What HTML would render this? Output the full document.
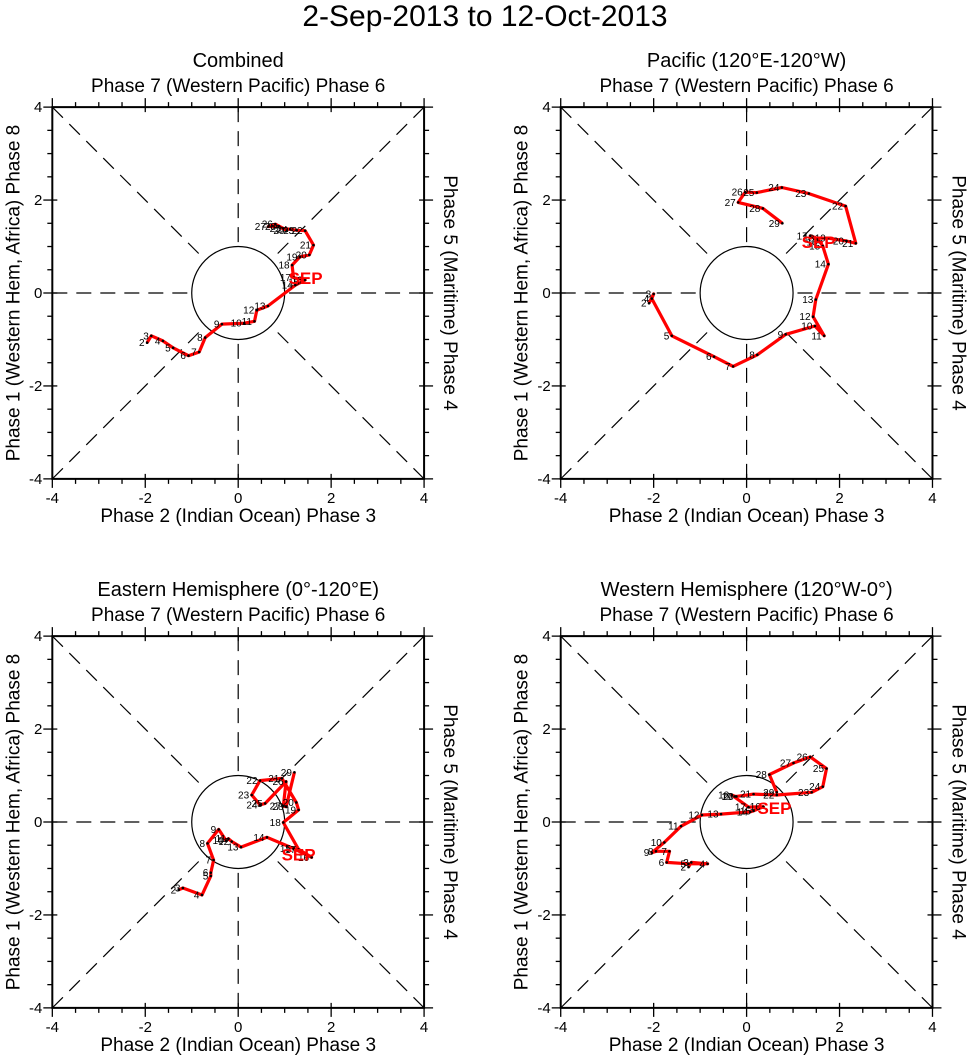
<!DOCTYPE html>
<html><head><meta charset="utf-8"><style>
html,body{margin:0;padding:0;background:#fff;}
svg{display:block;font-family:"Liberation Sans",Arial,sans-serif;}
</style></head><body>
<svg id="chart" width="971" height="1060" viewBox="0 0 971 1060">
<text x="485" y="26" font-size="30" text-anchor="middle">2-Sep-2013 to 12-Oct-2013</text>
</svg>
<script>
const days = [2,3,4,5,6,7,8,9,10,11,12,13,14,15,16,17,18,19,20,21,22,23,24,25,26,27,28,29];
const combinedX = [-1.96,-1.87,-1.62,-1.40,-1.07,-0.84,-0.71,-0.35,0.13,0.35,0.40,0.64,1.23,1.37,1.44,1.19,1.16,1.33,1.53,1.62,1.44,1.26,1.12,0.97,0.80,0.65,0.87,1.05];
const combinedY = [-1.07,-0.92,-1.03,-1.18,-1.35,-1.27,-0.96,-0.67,-0.65,-0.61,-0.37,-0.28,0.17,0.24,0.28,0.33,0.60,0.78,0.82,1.03,1.34,1.35,1.37,1.39,1.48,1.43,1.43,1.34];
const pacificX = [-2.10,-2.00,-2.04,-1.61,-0.70,-0.29,0.23,0.84,1.47,1.67,1.43,1.49,1.76,1.64,1.58,1.37,1.51,1.76,2.15,2.35,2.13,1.34,0.76,0.22,-0.03,-0.18,0.35,0.77];
const pacificY = [-0.22,-0.02,-0.12,-0.92,-1.37,-1.58,-1.33,-0.89,-0.71,-0.92,-0.51,-0.14,0.62,1.01,1.10,1.23,1.18,1.18,1.12,1.07,1.87,2.14,2.27,2.16,2.17,1.95,1.82,1.50];
const easternX = [-1.28,-1.19,-0.78,-0.59,-0.59,-0.53,-0.66,-0.42,-0.26,-0.21,-0.14,0.06,0.62,1.19,1.58,1.30,0.97,1.30,1.25,0.94,0.47,0.29,0.47,0.58,1.03,0.97,1.03,1.21];
const easternY = [-1.46,-1.42,-1.57,-1.16,-1.09,-0.82,-0.46,-0.16,-0.40,-0.36,-0.42,-0.54,-0.33,-0.57,-0.76,-0.59,-0.01,0.26,0.42,0.94,0.89,0.58,0.37,0.40,0.87,0.34,0.33,1.07];
const westernX = [-1.25,-1.19,-0.84,-1.25,-1.72,-1.66,-1.95,-2.04,-1.77,-1.41,-0.96,-0.55,0.08,0.15,0.36,0.04,-0.32,-0.25,-0.22,0.15,0.65,1.40,1.64,1.72,1.37,1.01,0.49,0.65];
const westernY = [-0.97,-0.87,-0.90,-0.90,-0.87,-0.63,-0.63,-0.66,-0.44,-0.09,0.15,0.17,0.22,0.24,0.33,0.32,0.58,0.55,0.55,0.60,0.58,0.64,0.76,1.15,1.40,1.27,1.02,0.64];
const sepLabelX = [1.45, 1.55, 1.30, 0.60];
const sepLabelY = [0.32, 1.10, -0.70, 0.30];
const tickVals = [-4,-2,0,2,4];
const panelTitles = ["Combined","Pacific (120\u00B0E-120\u00B0W)","Eastern Hemisphere (0\u00B0-120\u00B0E)","Western Hemisphere (120\u00B0W-0\u00B0)"];
const panelNames = ["combined","pacific","eastern-hemisphere","western-hemisphere"];
const seriesX = [combinedX, pacificX, easternX, westernX];
const seriesY = [combinedY, pacificY, easternY, westernY];

const NS = "http://www.w3.org/2000/svg";
const svg = document.getElementById('chart');
function mk(tag, attrs, parent, txt){
  const e = document.createElementNS(NS, tag);
  for (const k in attrs) e.setAttribute(k, attrs[k]);
  if (txt !== undefined) e.textContent = txt;
  parent.appendChild(e);
  return e;
}
const origins = [[238.2,293],[746.6,293],[238.2,822],[746.6,822]];
const S = 46.47;
for (let p = 0; p < 4; p++) {
  const ox = origins[p][0], oy = origins[p][1];
  const sx = v => ox + v * S;
  const sy = v => oy - v * S;
  const g = mk('g', {}, svg);
  
  
  const L = sx(-4), R = sx(4), T = sy(4), B = sy(-4);
  const t1 = mk('text', {x: ox, y: T - 40, 'font-size': 20, 'text-anchor': 'middle'}, g, panelTitles[p]);
  
  
  const t2 = mk('text', {x: ox, y: T - 15, 'font-size': 19, 'text-anchor': 'middle'}, g, 'Phase 7 (Western Pacific) Phase 6');
  
  
  const t3 = mk('text', {x: ox, y: B + 43, 'font-size': 19, 'text-anchor': 'middle'}, g, 'Phase 2 (Indian Ocean) Phase 3');
  
  
  const lx = L - 33;
  const t4 = mk('text', {x: 0, y: 0, 'font-size': 19, 'text-anchor': 'middle', transform: `translate(${lx},${oy}) rotate(-90)`}, g, 'Phase 1 (Western Hem, Africa) Phase 8');
  
  
  const rx = R + 20;
  const t5 = mk('text', {x: 0, y: 0, 'font-size': 19, 'text-anchor': 'middle', transform: `translate(${rx},${oy}) rotate(90)`}, g, 'Phase 5 (Maritime) Phase 4');
  
  
  const r = S;
  const d = r / Math.SQRT2;
  const dash = {stroke: '#000', 'stroke-width': 1.2, 'stroke-dasharray': '15,9', fill: 'none'};
  const guides = [[L,T,ox-d,oy-d],[R,T,ox+d,oy-d],[L,B,ox-d,oy+d],[R,B,ox+d,oy+d],[ox,T,ox,oy-r],[ox,B,ox,oy+r],[L,oy,ox-r,oy],[R,oy,ox+r,oy]];
  for (const gl of guides) {
    const ln = mk('line', Object.assign({x1: gl[0], y1: gl[1], x2: gl[2], y2: gl[3]}, dash), g);
    
    
  }
  const c = mk('circle', {cx: ox, cy: oy, r: r, fill: 'none', stroke: '#000', 'stroke-width': 1.2}, g);
  
  
  const fr = mk('rect', {x: L, y: T, width: R - L, height: B - T, fill: 'none', stroke: '#000', 'stroke-width': 2}, g);
  
  
  for (let v = -4; v <= 4.001; v += 0.5) {
    const major = Math.abs(v - Math.round(v / 2) * 2) < 0.01;
    const a = major ? 9 : 5, b = major ? 5 : 0;
    mk('line', {x1: sx(v), y1: T - a, x2: sx(v), y2: T + b, stroke: '#000', 'stroke-width': 1.3}, g);
    mk('line', {x1: sx(v), y1: B + a, x2: sx(v), y2: B - b, stroke: '#000', 'stroke-width': 1.3}, g);
    mk('line', {x1: L - a, y1: sy(v), x2: L + b, y2: sy(v), stroke: '#000', 'stroke-width': 1.3}, g);
    mk('line', {x1: R + a, y1: sy(v), x2: R - b, y2: sy(v), stroke: '#000', 'stroke-width': 1.3}, g);
  }
  for (const v of tickVals) {
    const xt = mk('text', {x: sx(v), y: B + 24, 'font-size': 15, 'text-anchor': 'middle'}, g, String(v));
    
    
    const yt = mk('text', {x: L - 10, y: sy(v) + 5, 'font-size': 15, 'text-anchor': 'end'}, g, String(v));
    
    
  }
  const xs = seriesX[p], ys = seriesY[p];
  const pts = xs.map((v, i) => sx(v).toFixed(1) + ',' + sy(ys[i]).toFixed(1)).join(' ');
  const pl = mk('polyline', {points: pts, fill: 'none', stroke: '#ff0000', 'stroke-width': 3.2, 'stroke-linejoin': 'round'}, g);
  
  
  for (let i = 0; i < xs.length; i++) {
    const dot = mk('circle', {cx: sx(xs[i]), cy: sy(ys[i]), r: 1.3, fill: '#000'}, g);
    
    
    const lb = mk('text', {x: sx(xs[i]) - 2.5, y: sy(ys[i]) + 3.5, 'font-size': 10, 'text-anchor': 'end'}, g, String(days[i]));
    
    
  }
  const sep = mk('text', {x: sx(sepLabelX[p]), y: sy(sepLabelY[p]) + 6, 'font-size': 17, 'font-weight': 'bold', fill: '#ff0000', 'text-anchor': 'middle'}, g, 'SEP');
  
  
}
</script>
</body></html>
